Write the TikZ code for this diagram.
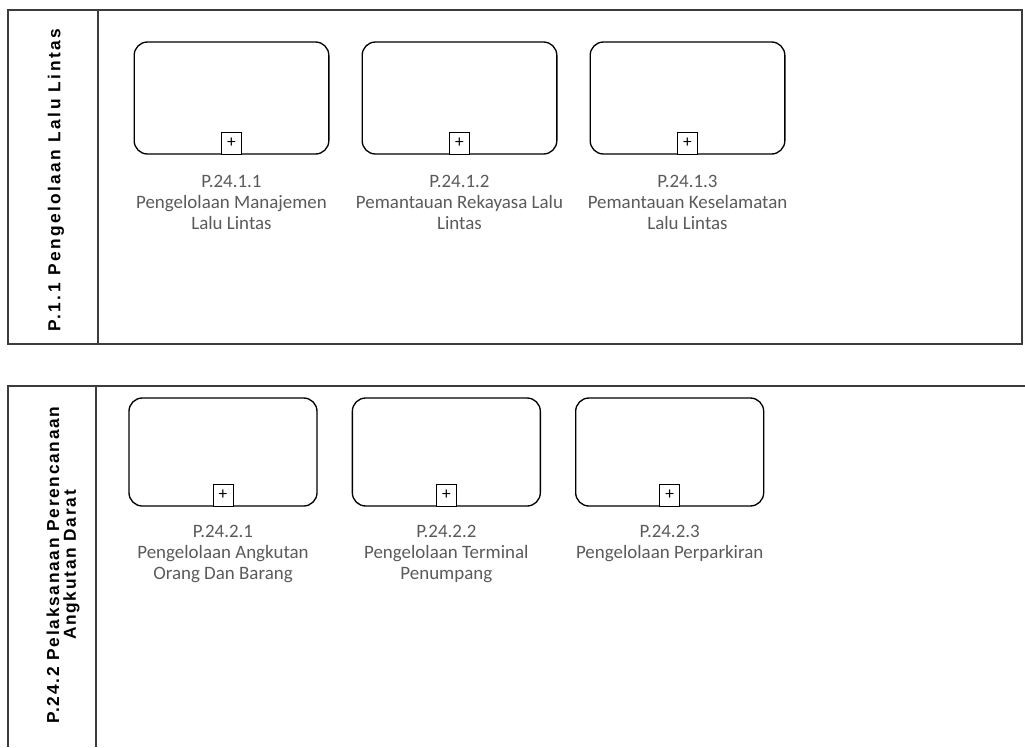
\documentclass[tikz,border=0pt]{standalone}
\usepackage{fontspec}
\setmainfont{Carlito}
\newfontfamily\headfont{Liberation Sans}[LetterSpace=14]
\newfontfamily\headfontwide{Liberation Sans}[LetterSpace=10]
\usetikzlibrary{positioning}
\definecolor{labelgray}{RGB}{90,90,90}
\definecolor{linegray}{RGB}{60,60,60}

\begin{document}
\begin{tikzpicture}[
        x=0.75pt, y=-0.75pt,
        task/.style={rectangle, draw=black, rounded corners=10pt, line width=1pt, minimum width=146pt, minimum height=84pt},
        tasksm/.style={task, minimum width=141pt, minimum height=81pt},
        marker/.style={rectangle, draw=black, line width=0.7pt, fill=white, anchor=south, minimum width=15pt, minimum height=16.5pt, inner sep=0pt, font=\fontsize{13}{13}\selectfont},
        lbl/.style={align=center, inner sep=0pt, text=labelgray, font=\fontsize{14.2}{16}\selectfont},
        head/.style={rotate=90, align=center, inner sep=0pt, font=\headfont\bfseries\fontsize{13}{12.5}\selectfont},
        pool/.style={draw=linegray, line width=1.2pt}
    ]
        \useasboundingbox (0,0) rectangle (1025,747);

        % pool P.1.1
        \draw[pool] (8,10) rectangle (1022,344);
        \draw[pool] (98,10) -- (98,344);
        \node[head] (h1) at (56,180) {P.1.1 Pengelolaan Lalu Lintas};

        \node[task] (t11) at (231.5,98) {};
        \node[task, right=24pt of t11] (t12) {};
        \node[task, right=24pt of t12] (t13) {};
        \node[marker] (m11) at (t11.south) {+};
        \node[marker] (m12) at (t12.south) {+};
        \node[marker] (m13) at (t13.south) {+};
        \node[lbl, below=15pt of t11] (l11) {P.24.1.1\\Pengelolaan Manajemen\\Lalu Lintas};
        \node[lbl, below=15pt of t12] (l12) {P.24.1.2\\Pemantauan Rekayasa Lalu\\Lintas};
        \node[lbl, below=15pt of t13] (l13) {P.24.1.3\\Pemantauan Keselamatan\\Lalu Lintas};

        % pool P.24.2
        \draw[pool] (1025,386) -- (8,386) -- (8,747);
        \draw[pool] (96,386) -- (96,747);
        \node[head, font=\headfontwide\bfseries\fontsize{13}{12.5}\selectfont] (h2) at (63,565) {P.24.2 Pelaksanaan Perencanaan\\Angkutan Darat};

        \node[tasksm] (t21) at (223,452) {};
        \node[tasksm, right=25.5pt of t21] (t22) {};
        \node[tasksm, right=25.5pt of t22] (t23) {};
        \node[marker] (m21) at (t21.south) {+};
        \node[marker] (m22) at (t22.south) {+};
        \node[marker] (m23) at (t23.south) {+};
        \node[lbl, below=13.5pt of t21] (l21) {P.24.2.1\\Pengelolaan Angkutan\\Orang Dan Barang};
        \node[lbl, below=13.5pt of t22] (l22) {P.24.2.2\\Pengelolaan Terminal\\Penumpang};
        \node[lbl, below=13.5pt of t23] (l23) {P.24.2.3\\Pengelolaan Perparkiran};
    \end{tikzpicture}
\end{document}
